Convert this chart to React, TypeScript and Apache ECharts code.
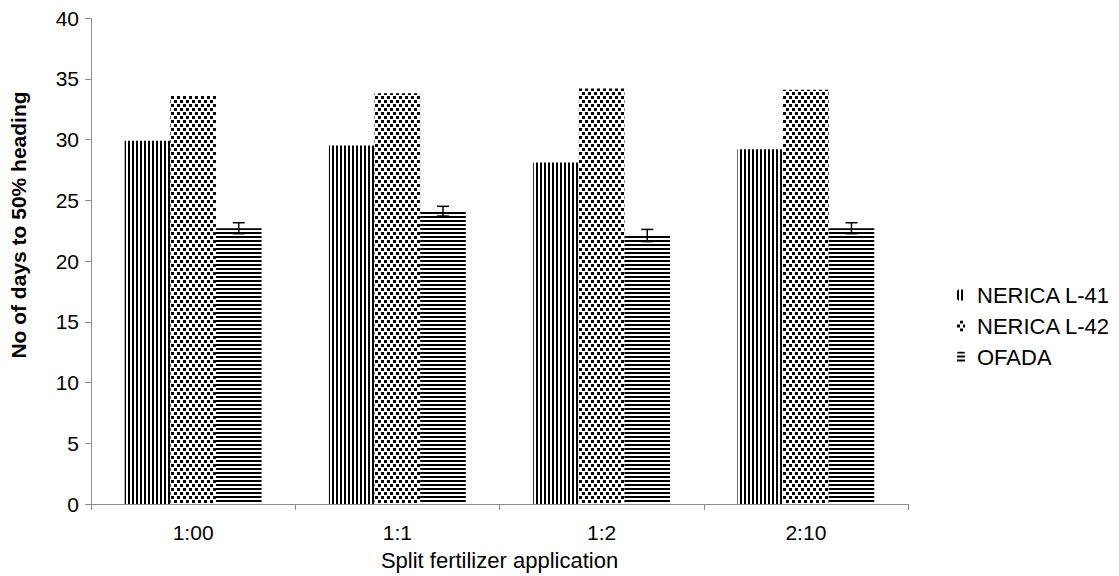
import React, { useEffect, useRef } from "react";
import * as echarts from "echarts";

const categories = ["1:00", "1:1", "1:2", "2:10"];
const nericaL41 = [29.9, 29.5, 28.1, 29.2];
const nericaL42 = [33.6, 33.8, 34.2, 34.1];
const ofada = [22.7, 24.1, 22.1, 22.7];
const ofadaErr = [0.45, 0.4, 0.5, 0.45];
const yTicks = { min: 0, max: 40, interval: 5 };

const FONT = "'Liberation Sans', Arial, sans-serif";
const GAP = 0.33;
const FS = 21;

export default function App() {
  const ref = useRef<HTMLDivElement>(null);
  useEffect(() => {
    if (!ref.current) return;
    const chart = echarts.init(ref.current, undefined, { renderer: "svg" });
    const errData = ofada.map((v, i) => [i, v - ofadaErr[i], v + ofadaErr[i]]);
    chart.setOption({
      animation: false,
      backgroundColor: "#fff",
      grid: { left: 90, right: 211, top: 18, bottom: 70, containLabel: false },
      legend: {
        data: ["NERICA L-41", "NERICA L-42", "OFADA"],
        orient: "vertical",
        left: 952,
        top: 279,
        itemWidth: 8,
        itemHeight: 11,
        itemGap: 9,
        textStyle: { fontFamily: FONT, fontSize: 22, color: "#000", padding: [0, 0, 0, 7] },
      },
      xAxis: {
        type: "category",
        data: categories,
        name: "Split fertilizer application",
        nameLocation: "middle",
        nameGap: 45,
        nameTextStyle: { fontFamily: FONT, fontSize: 22, color: "#000" },
        axisLine: { lineStyle: { color: "#8c8c8c", width: 1 } },
        axisTick: { show: true, length: 6, lineStyle: { color: "#8c8c8c" } },
        axisLabel: { fontFamily: FONT, fontSize: FS, color: "#000", margin: 18 },
      },
      yAxis: {
        type: "value",
        min: yTicks.min,
        max: yTicks.max,
        interval: yTicks.interval,
        name: "No of days to 50% heading",
        nameLocation: "middle",
        nameGap: 62,
        nameTextStyle: {
          fontFamily: FONT,
          fontSize: FS,
          fontWeight: "bold",
          color: "#000",
          padding: [0, 0, 0, 72],
        },
        axisLine: { show: true, lineStyle: { color: "#8c8c8c", width: 1 } },
        axisTick: { show: true, length: 6, lineStyle: { color: "#8c8c8c" } },
        splitLine: { show: false },
        axisLabel: { fontFamily: FONT, fontSize: FS, color: "#000", margin: 12 },
      },
      series: [
        {
          name: "NERICA L-41",
          type: "bar",
          data: nericaL41,
          barGap: "0%",
          barCategoryGap: GAP * 100 + "%",
          itemStyle: {
            color: "#fff",
            decal: {
              symbol: "rect",
              symbolSize: 1,
              color: "#000",
              dashArrayX: [1.5, 1.5],
              dashArrayY: [1, 0],
            },
          },
        },
        {
          name: "NERICA L-42",
          type: "bar",
          data: nericaL42,
          barGap: "0%",
          barCategoryGap: GAP * 100 + "%",
          itemStyle: {
            color: "#fff",
            decal: {
              symbol: "rect",
              symbolSize: 1,
              color: "#000",
              dashArrayX: [
                [2.5, 2.5],
                [0, 2.5, 2.5, 0],
              ],
              dashArrayY: [2.5, 1],
            },
          },
        },
        {
          name: "OFADA",
          type: "bar",
          data: ofada,
          barGap: "0%",
          barCategoryGap: GAP * 100 + "%",
          itemStyle: {
            color: "#fff",
            decal: {
              symbol: "rect",
              symbolSize: 1,
              color: "#000",
              dashArrayX: [1, 0],
              dashArrayY: [1.5, 1.5],
            },
          },
        },
        {
          name: "err",
          type: "custom",
          data: errData,
          z: 10,
          renderItem: (params: any, api: any) => {
            const xi = api.value(0);
            const hi = api.coord([xi, api.value(2)]);
            const lo = api.coord([xi, api.value(1)]);
            const band = api.size([1, 0])[0];
            const bw = (band * (1 - GAP)) / 3;
            const x = hi[0] + bw;
            const cap = 6;
            const st = { stroke: "#000", lineWidth: 1.5 };
            return {
              type: "group",
              children: [
                { type: "line", shape: { x1: x, y1: hi[1], x2: x, y2: lo[1] }, style: st },
                { type: "line", shape: { x1: x - cap, y1: hi[1], x2: x + cap, y2: hi[1] }, style: st },
                { type: "line", shape: { x1: x - cap, y1: lo[1], x2: x + cap, y2: lo[1] }, style: st },
              ],
            };
          },
        },
      ],
    });
    return () => chart.dispose();
  }, []);
  return <div ref={ref} style={{ width: 1119, height: 576, position: "absolute", left: 0, top: 0 }} />;
}
